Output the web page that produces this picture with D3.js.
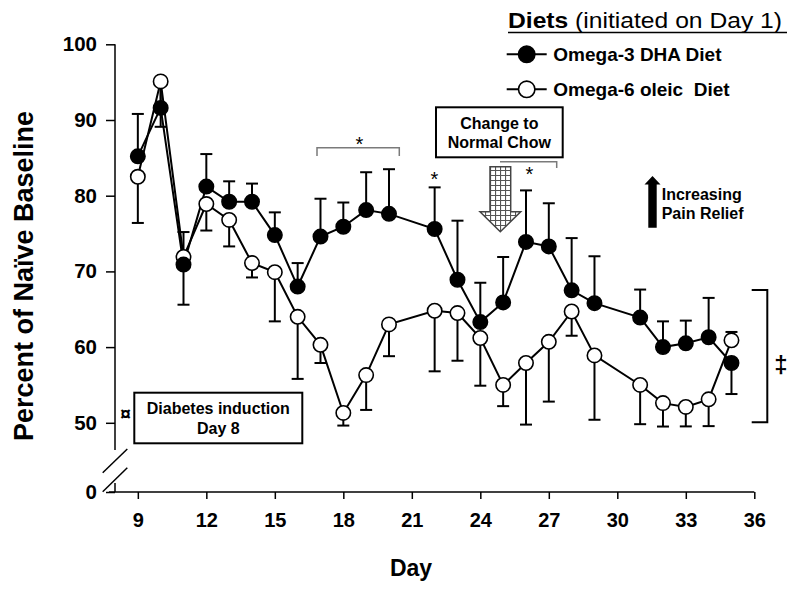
<!DOCTYPE html>
<html><head><meta charset="utf-8">
<script src="https://cdn.jsdelivr.net/npm/d3@7"></script>
<style>
html,body{margin:0;padding:0;background:#fff;}
text{font-family:Arial,"Liberation Sans",sans-serif;}
</style></head>
<body><svg id="c" width="800" height="595"></svg>
<script>
const days = [9,10,11,12,13,14,15,16,17,18,19,20,22,23,24,25,26,27,28,29,31,32,33,34,35];
const omega3 = [85.2,91.6,70.9,81.2,79.2,79.2,74.8,68.0,74.6,75.9,78.1,77.6,75.6,68.9,63.3,65.9,73.9,73.3,67.5,65.8,63.9,60.0,60.5,61.3,57.9];
// signed error: positive drawn above, negative drawn below
const omega3Err = [5.6,3.6,-5.3,4.3,2.7,2.4,3.0,3.1,5.0,3.2,5.0,5.9,5.5,7.8,5.2,6.0,6.8,5.7,6.9,6.2,3.7,3.4,3.0,5.2,-4.1];
const omega6 = [82.5,95.1,71.9,78.9,76.8,71.1,69.9,64.0,60.3,51.3,56.3,63.0,64.8,64.5,61.2,55.0,57.9,60.7,64.7,58.9,55.0,52.6,52.1,53.1,60.9];
const omega6Err = [-6.1,-6.0,3.3,-3.5,-3.5,-1.9,-6.5,-8.2,-2.4,-3.3,-4.6,-4.2,-8.0,-6.3,-6.3,-2.8,-9.2,-7.9,-3.2,-8.5,-6.0,-5.3,-4.7,-5.5,1.1];
const xTicks = [9,12,15,18,21,24,27,30,33,36];
const yTicks = [0,50,60,70,80,90,100];
const seriesNames = ["Omega-3 DHA Diet","Omega-6 oleic  Diet"];

const svg = d3.select("#c");
const x = d3.scaleLinear().domain([8,36]).range([115,754.3]);
const y = d3.scaleLinear().domain([0,50,100]).range([492,422.8,44.3]);

// pattern for hatched arrow
const defs = svg.append("defs");
const pat = defs.append("pattern").attr("id","grid").attr("patternUnits","userSpaceOnUse")
  .attr("width",5).attr("height",5);
pat.append("rect").attr("width",5).attr("height",5).attr("fill","#fff");
pat.append("path").attr("d","M0,0.5H5M0.5,0V5").attr("stroke","#555").attr("stroke-width",1.2);

// X axis
const xAxis = svg.append("g").attr("transform","translate(0,492)")
  .call(d3.axisBottom(x).tickValues(xTicks).tickSize(7).tickSizeOuter(0).tickPadding(14));
xAxis.select(".domain").remove();
xAxis.append("line").attr("x1",109).attr("x2",x(36)).attr("stroke","#000").attr("stroke-width",1.5);
xAxis.selectAll(".tick line").attr("stroke-width",1.5);
xAxis.selectAll(".tick text").attr("font-size",20).attr("font-weight","bold").attr("fill","#000")
  .attr("font-family","Arial, Liberation Sans, sans-serif");

// Y axis
const yAxis = svg.append("g").attr("transform","translate(115,0)")
  .call(d3.axisLeft(y).tickValues(yTicks).tickSize(9).tickPadding(9).tickFormat(d3.format("d")));
yAxis.select(".domain").remove();
yAxis.selectAll(".tick line").attr("stroke-width",1.5);
yAxis.selectAll(".tick text").attr("font-size",20.5).attr("font-weight","bold").attr("fill","#000")
  .attr("font-family","Arial, Liberation Sans, sans-serif");
yAxis.append("line").attr("y1",y(100)).attr("y2",450).attr("stroke","#000").attr("stroke-width",1.5);
yAxis.append("line").attr("y1",483).attr("y2",y(0)).attr("stroke","#000").attr("stroke-width",1.5);
// break marks
svg.append("line").attr("x1",102.7).attr("y1",472.7).attr("x2",127.3).attr("y2",449).attr("stroke","#000").attr("stroke-width",1.5);
svg.append("line").attr("x1",102.7).attr("y1",491.7).attr("x2",127.3).attr("y2",467.7).attr("stroke","#000").attr("stroke-width",1.5);

// axis titles
svg.append("text").attr("x",411).attr("y",576).attr("text-anchor","middle")
  .attr("font-size",23).attr("font-weight","bold").text("Day");
svg.append("text").attr("transform","translate(33,276) rotate(-90)").attr("text-anchor","middle")
  .attr("font-size",27).attr("font-weight","bold").text("Percent of Naïve Baseline");

const line = d3.line().x(d=>x(d[0])).y(d=>y(d[1]));
const s3 = days.map((d,i)=>[d,omega3[i],omega3Err[i]]);
const s6 = days.map((d,i)=>[d,omega6[i],omega6Err[i]]);

// lines
[s6,s3].forEach(s=>{
  svg.append("path").datum(s).attr("d",line).attr("fill","none").attr("stroke","#000").attr("stroke-width",2);
});
// error bars
[s3,s6].forEach(s=>{
  const g = svg.append("g").attr("stroke","#000").attr("stroke-width",2);
  g.selectAll("line.v").data(s).join("line").attr("class","v")
    .attr("x1",d=>x(d[0])).attr("x2",d=>x(d[0])).attr("y1",d=>y(d[1])).attr("y2",d=>y(d[1]+d[2]));
  g.selectAll("line.c").data(s).join("line").attr("class","c")
    .attr("x1",d=>x(d[0])-6).attr("x2",d=>x(d[0])+6).attr("y1",d=>y(d[1]+d[2])).attr("y2",d=>y(d[1]+d[2]));
});
// markers
svg.append("g").selectAll("circle").data(s6).join("circle")
  .attr("cx",d=>x(d[0])).attr("cy",d=>y(d[1])).attr("r",7.2)
  .attr("fill","#fff").attr("stroke","#000").attr("stroke-width",1.6);
svg.append("g").selectAll("circle").data(s3).join("circle")
  .attr("cx",d=>x(d[0])).attr("cy",d=>y(d[1])).attr("r",7.2)
  .attr("fill","#000").attr("stroke","#000").attr("stroke-width",1.6);

// legend
const lt = svg.append("text").attr("x",508).attr("y",28).attr("font-size",22)
  .attr("textLength",274).attr("lengthAdjust","spacingAndGlyphs");
lt.append("tspan").attr("font-weight","bold").text("Diets");
lt.append("tspan").text(" (initiated on Day 1)");
svg.append("line").attr("x1",508).attr("x2",787).attr("y1",32.5).attr("y2",32.5).attr("stroke","#000").attr("stroke-width",1.5);
[[54.3,"#000"],[89.3,"#fff"]].forEach((r,i)=>{
  svg.append("line").attr("x1",506.7).attr("x2",546.7).attr("y1",r[0]).attr("y2",r[0]).attr("stroke","#000").attr("stroke-width",2);
  svg.append("circle").attr("cx",526.7).attr("cy",r[0]).attr("r",8.2).attr("fill",r[1]).attr("stroke","#000").attr("stroke-width",1.6);
  svg.append("text").attr("x",553.3).attr("y",r[0]+6.8).attr("font-size",19).attr("font-weight","bold")
    .style("white-space","pre").text(seriesNames[i]);
});

// significance brackets
const gray = "#7a7a7a";
svg.append("path").attr("d","M317,156V147.7H399.3V156").attr("fill","none").attr("stroke",gray).attr("stroke-width",1.5);
svg.append("path").attr("d","M500,161.7H556.7V168").attr("fill","none").attr("stroke",gray).attr("stroke-width",1.5);
[[359.3,151],[434.3,186],[529.3,181]].forEach(p=>{
  svg.append("text").attr("x",p[0]).attr("y",p[1]).attr("text-anchor","middle").attr("font-size",20).text("*");
});

// Change to Normal Chow box
svg.append("rect").attr("x",436).attr("y",107.3).attr("width",126.7).attr("height",50).attr("fill","#fff").attr("stroke","#000").attr("stroke-width",2);
svg.append("text").attr("x",499.3).attr("y",129.3).attr("text-anchor","middle").attr("font-size",16).attr("font-weight","bold").text("Change to");
svg.append("text").attr("x",499.3).attr("y",148.3).attr("text-anchor","middle").attr("font-size",16).attr("font-weight","bold").text("Normal Chow");
// hatched arrow
svg.append("path").attr("d","M490,166.7H510.7V211.7H520.7L500.3,231.7L480,211.7H490Z")
  .attr("fill","url(#grid)").attr("stroke","#444").attr("stroke-width",1.5);

// pain relief arrow
svg.append("path").attr("d","M652.5,176L660.5,184.5H656.7V227.7H648.3V184.5H644.5Z").attr("fill","#000");
svg.append("text").attr("x",661.7).attr("y",200).attr("font-size",16).attr("font-weight","bold").text("Increasing");
svg.append("text").attr("x",661.7).attr("y",219).attr("font-size",16).attr("font-weight","bold").text("Pain Relief");

// right bracket with double dagger
svg.append("path").attr("d","M751.7,290H767.3V422.3H751.7").attr("fill","none").attr("stroke","#000").attr("stroke-width",2);
svg.append("text").attr("x",781).attr("y",373).attr("text-anchor","middle").attr("font-size",24).attr("font-weight","bold").text("‡");

// Diabetes induction box
svg.append("rect").attr("x",134.3).attr("y",392.7).attr("width",168).attr("height",50.6).attr("fill","#fff").attr("stroke","#000").attr("stroke-width",2);
svg.append("text").attr("x",218.3).attr("y",414).attr("text-anchor","middle").attr("font-size",16).attr("font-weight","bold").text("Diabetes induction");
svg.append("text").attr("x",218.3).attr("y",434).attr("text-anchor","middle").attr("font-size",16).attr("font-weight","bold").text("Day 8");
svg.append("text").attr("x",125.5).attr("y",420).attr("text-anchor","middle").attr("font-size",19).attr("font-weight","bold").text("¤");
</script></body></html>
